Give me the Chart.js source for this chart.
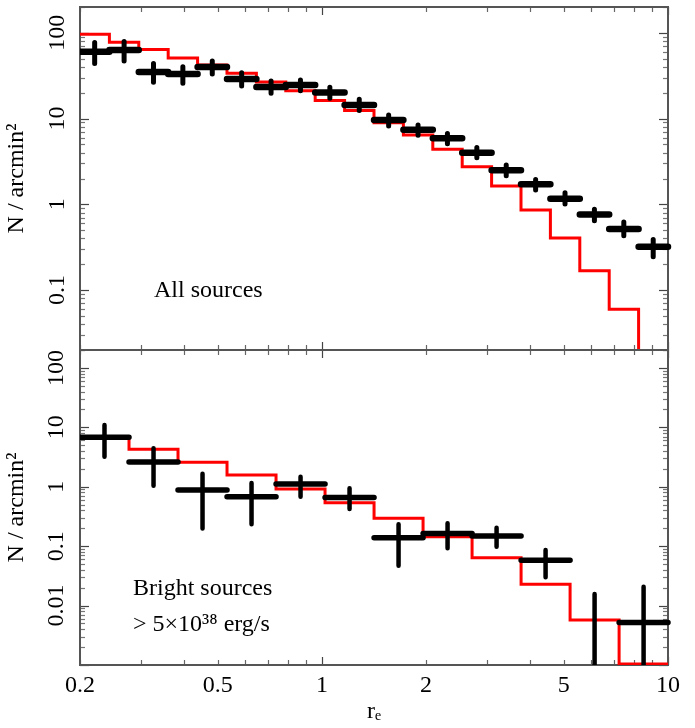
<!DOCTYPE html>
<html>
<head>
<meta charset="utf-8">
<script src="https://cdn.jsdelivr.net/npm/chart.js@4.4.0/dist/chart.umd.min.js"></script>
<style>
  html, body { margin: 0; padding: 0; background: #ffffff; }
  #wrap { position: relative; width: 695px; height: 728px; overflow: hidden; }
  canvas { position: absolute; left: 0; }
</style>
</head>
<body>
<div id="wrap">
  <canvas id="c1" width="695" height="353" style="top:0px;width:695px;height:353px"></canvas>
  <canvas id="c2" width="695" height="388" style="top:340px;width:695px;height:388px"></canvas>
</div>
<script>
// ---------------- data ----------------
const xTickValues = [0.2, 0.5, 1, 2, 5, 10];
const xTickLabels = ['0.2', '0.5', '1', '2', '5', '10'];
const yTickValuesAll = [0.1, 1, 10, 100];
const yTickLabelsAll = ['0.1', '1', '10', '100'];
const yTickValuesBright = [0.01, 0.1, 1, 10, 100];
const yTickLabelsBright = ['0.01', '0.1', '1', '10', '100'];

// All sources: 20 radial bins
const allEdges = [0.2, 0.2432, 0.2957, 0.3596, 0.4373, 0.5318, 0.6467, 0.7864, 0.9563, 1.1629,
                  1.4142, 1.7197, 2.0913, 2.5431, 3.0925, 3.7606, 4.5730, 5.5610, 6.7624, 8.2234, 10];
const allCenters = [0.2205, 0.2682, 0.3261, 0.3965, 0.4822, 0.5863, 0.7130, 0.8670, 1.0543, 1.2820,
                    1.5590, 1.8957, 2.3052, 2.8031, 3.4086, 4.1449, 5.0402, 6.1289, 7.4528, 9.0626];
const allCounts = [60, 63, 35, 33, 40, 29, 23.3, 24.6, 20.2, 14.4, 9.6, 7.4, 5.9, 4.0, 2.5, 1.71, 1.16, 0.76, 0.515, 0.32];
const allLow    = [44, 47, 26.5, 25.8, 33.1, 24, 19.7, 21.1, 17.2, 12.4, 8.2, 6.4, 5.1, 3.5, 2.16, 1.47, 1.01, 0.645, 0.43, 0.245];
const allHigh   = [77, 79, 44, 40.3, 47, 34.3, 27.4, 28.2, 23.2, 16.8, 11, 8.4, 6.7, 4.6, 2.87, 1.95, 1.36, 0.875, 0.62, 0.39];
const allModel  = [96, 77.5, 64, 51, 42, 33.7, 26.7, 21.1, 16.2, 12.4, 8.95, 6.43, 4.38, 2.75, 1.64, 0.86, 0.405, 0.168, 0.0596, 0.005];

// Bright sources: 12 radial bins
const brightEdges = [0.2, 0.2771, 0.3839, 0.5319, 0.7370, 1.0211, 1.4147, 1.9601, 2.7157, 3.7626, 5.2131, 7.2228, 10];
const brightCenters = [0.2354, 0.3262, 0.4519, 0.6261, 0.8675, 1.2019, 1.6652, 2.3071, 3.1965, 4.4287, 6.1359, 8.5012];
const brightCounts = [6.8, 2.6, 0.88, 0.68, 1.11, 0.66, 0.139, 0.164, 0.148, 0.058, 0.0008, 0.0052];
const brightLow    = [3.2, 1.04, 0.198, 0.233, 0.68, 0.42, 0.047, 0.092, 0.098, 0.030, 0.0001, 0.0001];
const brightHigh   = [10.9, 4.43, 1.65, 1.16, 1.47, 0.94, 0.233, 0.242, 0.204, 0.086, 0.0157, 0.0208];
const brightModel  = [7.0, 4.27, 2.58, 1.57, 0.916, 0.538, 0.294, 0.144, 0.064, 0.0228, 0.0057, 0.00104];

// ---------------- helpers ----------------
const FONT = 'Liberation Serif';

const framePlugin = {
  id: 'frameTicks',
  beforeDatasetsDraw(chart) {
    const { ctx, chartArea: a, scales: { x, y } } = chart;
    ctx.save();
    ctx.lineWidth = 1.2;
    const seg = (x1, y1, x2, y2, col) => {
      ctx.strokeStyle = col;
      ctx.beginPath(); ctx.moveTo(x1, y1); ctx.lineTo(x2, y2); ctx.stroke();
    };
    for (let e = -1; e <= 1; e++) {
      for (let m = 1; m <= 9; m++) {
        const v = m * Math.pow(10, e);
        if (v < x.min * 0.999 || v > x.max * 1.001) continue;
        const px = Math.round(x.getPixelForValue(v)) + 0.5;
        const len = m === 1 ? 8 : 5;
        const col = m === 1 ? '#444' : '#666';
        seg(px, a.top, px, a.top + len, col);
        seg(px, a.bottom, px, a.bottom - len, col);
      }
    }
    for (let e = -4; e <= 2; e++) {
      for (let m = 1; m <= 9; m++) {
        const v = m * Math.pow(10, e);
        if (v < y.min * 0.999 || v > y.max * 1.001) continue;
        const py = Math.round(y.getPixelForValue(v)) + 0.5;
        const len = m === 1 ? 9 : 5;
        const col = m === 1 ? '#444' : '#777';
        seg(a.left, py, a.left + len, py, col);
        seg(a.right, py, a.right - len, py, col);
      }
    }
    ctx.strokeStyle = '#555';
    ctx.lineWidth = 2;
    ctx.strokeRect(a.left, a.top, a.right - a.left, a.bottom - a.top);
    ctx.restore();
  },
  afterDraw(chart, args, opts) {
    const { ctx, chartArea: a } = chart;
    ctx.save();
    ctx.fillStyle = '#000';
    ctx.font = '24px "' + FONT + '"';
    ctx.textAlign = 'left';
    ctx.textBaseline = 'alphabetic';
    (opts.notes || []).forEach(n => ctx.fillText(n.text, a.left + n.dx, a.top + n.dy));
    ctx.restore();
  }
};

function makePanel(canvasId, o) {
  const hData = [], vData = [], mData = [];
  o.centers.forEach((c, i) => {
    hData.push({ x: o.edges[i], y: o.counts[i] }, { x: o.edges[i + 1], y: o.counts[i] }, { x: o.edges[i + 1], y: null });
    vData.push({ x: c, y: o.low[i] }, { x: c, y: o.high[i] }, { x: c, y: null });
  });
  o.model.forEach((m, i) => mData.push({ x: o.edges[i], y: m }));
  mData.push({ x: o.edges[o.model.length], y: o.model[o.model.length - 1] });

  const blackClip = { left: 0, top: 4, right: 4, bottom: 0 };
  return new Chart(document.getElementById(canvasId), {
    type: 'scatter',
    data: {
      datasets: [
        { label: 'data x-range', data: hData, showLine: true, spanGaps: false, borderColor: '#000', borderWidth: o.hWidth,
          borderCapStyle: 'round', pointRadius: 0, clip: blackClip },
        { label: 'data error', data: vData, showLine: true, spanGaps: false, borderColor: '#000', borderWidth: o.vWidth,
          borderCapStyle: 'round', pointRadius: 0, clip: blackClip },
        { label: 'model', data: mData, showLine: true, stepped: 'before', borderColor: '#ff0000', borderWidth: 3,
          pointRadius: 0, borderJoinStyle: 'miter' }
      ]
    },
    options: {
      responsive: false,
      animation: false,
      events: [],
      layout: { padding: { top: o.padTop, right: 27, left: 0, bottom: 0 } },
      plugins: {
        legend: { display: false },
        tooltip: { enabled: false },
        frameTicks: { notes: o.notes }
      },
      scales: {
        x: {
          type: 'logarithmic', min: 0.2, max: 10, position: 'bottom',
          afterBuildTicks: s => { s.ticks = xTickValues.map(v => ({ value: v })); },
          afterFit: s => { s.height = o.xHeight; s.paddingLeft = 0; s.paddingRight = 0; },
          grid: { display: false, drawTicks: false },
          border: { display: false },
          ticks: {
            display: o.showX, autoSkip: false, minRotation: 0, maxRotation: 0, padding: 6,
            color: '#000', font: { family: FONT, size: 24 },
            callback: (v, i) => xTickLabels[i]
          },
          title: { display: o.showX, text: 'rₑ', color: '#000', font: { family: FONT, size: 24 }, padding: { top: 0, bottom: 2 } }
        },
        y: {
          type: 'logarithmic', min: o.yMin, max: 200, position: 'left',
          afterBuildTicks: s => { s.ticks = o.yTickValues.map(v => ({ value: v })); },
          afterFit: s => { s.width = 80; s.paddingTop = 0; s.paddingBottom = 0; },
          grid: { display: false, drawTicks: false },
          border: { display: false },
          ticks: {
            autoSkip: false, minRotation: 90, maxRotation: 90, crossAlign: 'center', padding: o.yPad,
            color: '#000', font: { family: FONT, size: 24 },
            callback: (v, i) => o.yTickLabels[i]
          },
          title: { display: true, text: 'N / arcmin²', color: '#000', font: { family: FONT, size: 24 }, padding: { top: 2, bottom: 0 } }
        }
      }
    },
    plugins: [framePlugin]
  });
}

makePanel('c1', {
  edges: allEdges, centers: allCenters, counts: allCounts, low: allLow, high: allHigh, model: allModel,
  yMin: 0.02, yTickValues: yTickValuesAll, yTickLabels: yTickLabelsAll, yPad: 4,
  padTop: 7, xHeight: 3, showX: false, hWidth: 6.5, vWidth: 5,
  notes: [{ text: 'All sources', dx: 74, dy: 290 }]
});

makePanel('c2', {
  edges: brightEdges, centers: brightCenters, counts: brightCounts, low: brightLow, high: brightHigh, model: brightModel,
  yMin: 0.001, yTickValues: yTickValuesBright, yTickLabels: yTickLabelsBright, yPad: 2,
  padTop: 10, xHeight: 63, showX: true, hWidth: 5.5, vWidth: 4.5,
  notes: [
    { text: 'Bright sources', dx: 53, dy: 245 },
    { text: '> 5×10³⁸ erg/s', dx: 53, dy: 281 }
  ]
});
</script>
</body>
</html>
